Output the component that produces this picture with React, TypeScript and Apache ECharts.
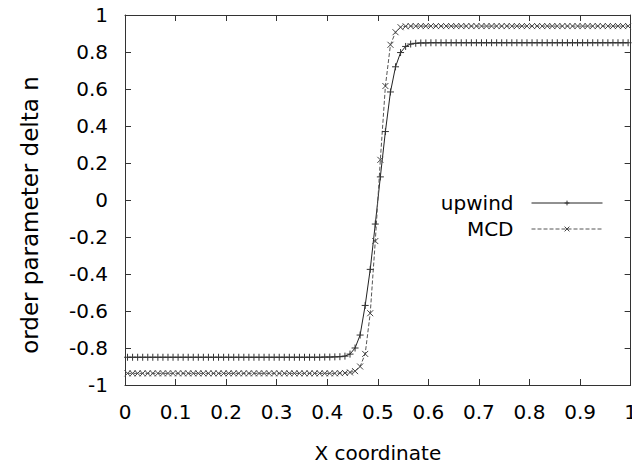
import React, { useEffect, useRef } from "react";
import * as echarts from "echarts";

// cell-centre x coordinates (0.005, 0.015, ... 0.995)
const xCoords: number[] = [
  0.005, 0.015, 0.025, 0.035, 0.045, 0.055, 0.065, 0.075, 0.085, 0.095,
  0.105, 0.115, 0.125, 0.135, 0.145, 0.155, 0.165, 0.175, 0.185, 0.195,
  0.205, 0.215, 0.225, 0.235, 0.245, 0.255, 0.265, 0.275, 0.285, 0.295,
  0.305, 0.315, 0.325, 0.335, 0.345, 0.355, 0.365, 0.375, 0.385, 0.395,
  0.405, 0.415, 0.425, 0.435, 0.445, 0.455, 0.465, 0.475, 0.485, 0.495,
  0.505, 0.515, 0.525, 0.535, 0.545, 0.555, 0.565, 0.575, 0.585, 0.595,
  0.605, 0.615, 0.625, 0.635, 0.645, 0.655, 0.665, 0.675, 0.685, 0.695,
  0.705, 0.715, 0.725, 0.735, 0.745, 0.755, 0.765, 0.775, 0.785, 0.795,
  0.805, 0.815, 0.825, 0.835, 0.845, 0.855, 0.865, 0.875, 0.885, 0.895,
  0.905, 0.915, 0.925, 0.935, 0.945, 0.955, 0.965, 0.975, 0.985, 0.995,
];

const upwindValues: number[] = [
  -0.85, -0.85, -0.85, -0.85, -0.85, -0.85, -0.85, -0.85, -0.85, -0.85,
  -0.85, -0.85, -0.85, -0.85, -0.85, -0.85, -0.85, -0.85, -0.85, -0.85,
  -0.85, -0.85, -0.85, -0.85, -0.85, -0.85, -0.85, -0.85, -0.85, -0.85,
  -0.85, -0.85, -0.85, -0.85, -0.85, -0.85, -0.85, -0.85, -0.85, -0.849,
  -0.849, -0.848, -0.847, -0.844, -0.833, -0.8, -0.73, -0.57, -0.375, -0.13,
  0.125, 0.37, 0.584, 0.72, 0.797, 0.83, 0.843, 0.847, 0.849, 0.849,
  0.85, 0.85, 0.85, 0.85, 0.85, 0.85, 0.85, 0.85, 0.85, 0.85,
  0.85, 0.85, 0.85, 0.85, 0.85, 0.85, 0.85, 0.85, 0.85, 0.85,
  0.85, 0.85, 0.85, 0.85, 0.85, 0.85, 0.85, 0.85, 0.85, 0.85,
  0.85, 0.85, 0.85, 0.85, 0.85, 0.85, 0.85, 0.85, 0.85, 0.85,
];

const mcdValues: number[] = [
  -0.937, -0.937, -0.937, -0.937, -0.937, -0.937, -0.937, -0.937, -0.937, -0.937,
  -0.937, -0.937, -0.937, -0.937, -0.937, -0.937, -0.937, -0.937, -0.937, -0.937,
  -0.937, -0.937, -0.937, -0.937, -0.937, -0.937, -0.937, -0.937, -0.937, -0.937,
  -0.937, -0.937, -0.937, -0.937, -0.937, -0.937, -0.937, -0.937, -0.937, -0.937,
  -0.937, -0.937, -0.936, -0.935, -0.932, -0.925, -0.9, -0.832, -0.612, -0.222,
  0.217, 0.616, 0.839, 0.907, 0.934, 0.939, 0.94, 0.94, 0.94, 0.94,
  0.94, 0.94, 0.94, 0.94, 0.94, 0.94, 0.94, 0.94, 0.94, 0.94,
  0.94, 0.94, 0.94, 0.94, 0.94, 0.94, 0.94, 0.94, 0.94, 0.94,
  0.94, 0.94, 0.94, 0.94, 0.94, 0.94, 0.94, 0.94, 0.94, 0.94,
  0.94, 0.94, 0.94, 0.94, 0.94, 0.94, 0.94, 0.94, 0.94, 0.94,
];

const seriesNames = ["upwind", "MCD"];
const xTitle = "X coordinate";
const yTitle = "order parameter delta n";

const FONT = "DejaVu Sans";
const PLUS = "path://M0,5L10,5M5,0L5,10";
const CROSS = "path://M0,0L10,10M10,0L0,10";

export default function App() {
  const ref = useRef<HTMLDivElement>(null);
  useEffect(() => {
    if (!ref.current) return;
    const chart = echarts.init(ref.current, undefined, { renderer: "svg" });
    const axisColor = "#333";
    const tickCommon = {
      show: true,
      inside: true,
      length: 6,
      lineStyle: { color: axisColor, width: 1 },
    };
    const lineCommon = { show: true, onZero: false, lineStyle: { color: axisColor, width: 1 } };
    chart.setOption({
      animation: false,
      backgroundColor: "#fff",
      grid: { left: 125, right: 5, top: 15, bottom: 82, containLabel: false },
      legend: {
        orient: "vertical",
        right: 32,
        top: 188,
        align: "right",
        itemWidth: 71,
        itemHeight: 6,
        itemGap: 6,
        lineStyle: { width: 1 },
        itemStyle: { borderWidth: 1 },
        textStyle: {
          fontFamily: FONT,
          fontSize: 20,
          color: "#000",
          lineHeight: 20,
          padding: [0, 13, 0, 0],
        },
        data: seriesNames,
      },
      xAxis: [
        {
          type: "value",
          min: 0,
          max: 1,
          interval: 0.1,
          position: "bottom",
          name: xTitle,
          nameLocation: "middle",
          nameGap: 58,
          nameTextStyle: { fontFamily: FONT, fontSize: 20, color: "#000" },
          axisLine: lineCommon,
          axisTick: tickCommon,
          axisLabel: { fontFamily: FONT, fontSize: 20, color: "#000", margin: 17 },
          splitLine: { show: false },
        },
        {
          type: "value",
          min: 0,
          max: 1,
          interval: 0.1,
          position: "top",
          axisLine: lineCommon,
          axisTick: tickCommon,
          axisLabel: { show: false },
          splitLine: { show: false },
        },
      ],
      yAxis: [
        {
          type: "value",
          min: -1,
          max: 1,
          interval: 0.2,
          position: "left",
          name: yTitle,
          nameLocation: "middle",
          nameGap: 84,
          nameTextStyle: {
            fontFamily: FONT,
            fontSize: 23,
            color: "#000",
            padding: [0, 30, 0, 0],
          },
          axisLine: lineCommon,
          axisTick: tickCommon,
          axisLabel: { fontFamily: FONT, fontSize: 20, color: "#000", margin: 17 },
          splitLine: { show: false },
        },
        {
          type: "value",
          min: -1,
          max: 1,
          interval: 0.2,
          position: "right",
          axisLine: lineCommon,
          axisTick: tickCommon,
          axisLabel: { show: false },
          splitLine: { show: false },
        },
      ],
      series: [
        {
          name: seriesNames[0],
          type: "line",
          data: xCoords.map((x, i) => [x, upwindValues[i]]),
          symbol: PLUS,
          symbolSize: 7,
          showAllSymbol: true,
          itemStyle: { color: "#333", borderColor: "#333", borderWidth: 1 },
          lineStyle: { color: "#222", width: 1, type: "solid" },
        },
        {
          name: seriesNames[1],
          type: "line",
          data: xCoords.map((x, i) => [x, mcdValues[i]]),
          symbol: CROSS,
          symbolSize: 6,
          showAllSymbol: true,
          itemStyle: { color: "#444", borderColor: "#444", borderWidth: 1 },
          lineStyle: { color: "#555", width: 1, type: [4, 2] },
        },
      ],
    });
    return () => chart.dispose();
  }, []);
  return <div ref={ref} style={{ width: 640, height: 468, margin: -8 }} />;
}
